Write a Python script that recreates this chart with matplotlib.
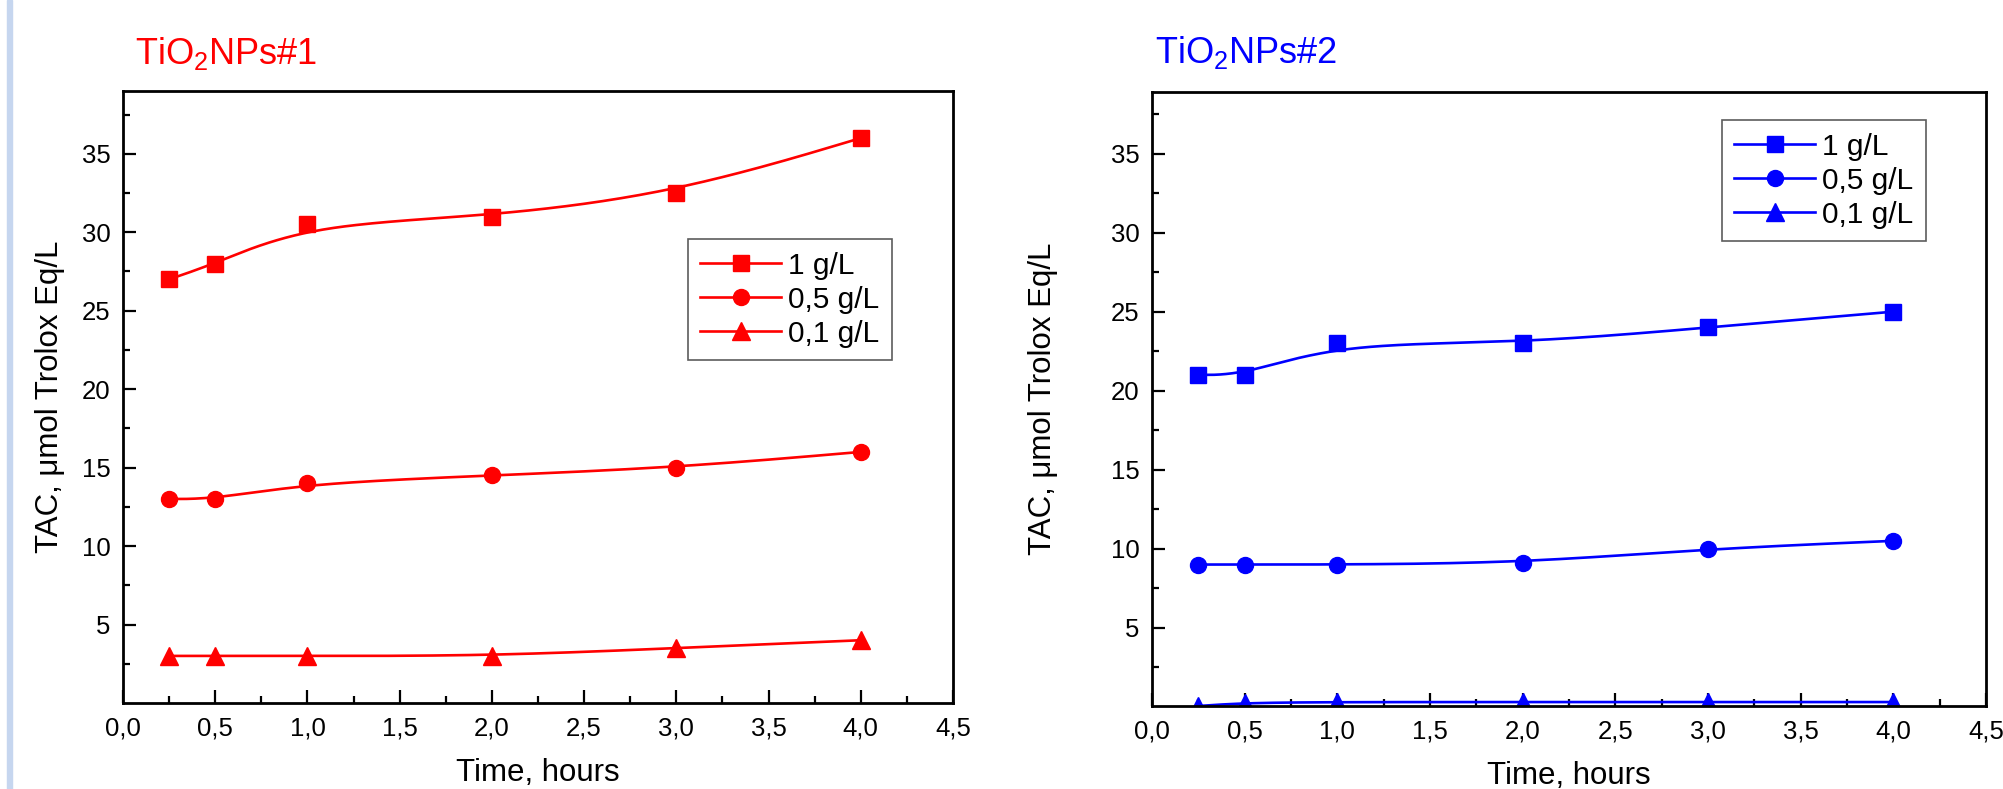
import numpy as np
import matplotlib
matplotlib.use("Agg")
import matplotlib.pyplot as plt
from matplotlib.patches import Rectangle

plt.rcParams['font.family'] = ['Liberation Sans', 'DejaVu Sans']
plt.rcParams['mathtext.fontset'] = 'custom'
plt.rcParams['mathtext.rm'] = 'Liberation Sans'

# sampling times, hours
hours = [0.25, 0.5, 1.0, 2.0, 3.0, 4.0]

# TAC, umol Trolox Eq/L
np1_1g = [27, 28, 30.5, 31, 32.5, 36]
np1_05g = [13, 13, 14, 14.5, 15, 16]
np1_01g = [3, 3, 3, 3, 3.5, 4]

np2_1g = [21, 21, 23, 23, 24, 25]
np2_05g = [9, 9, 9, 9.1, 10, 10.5]
np2_01g = [0.05, 0.25, 0.3, 0.3, 0.3, 0.3]

series_labels = ['1 g/L', '0,5 g/L', '0,1 g/L']
series_markers = ['s', 'o', '^']

xticks = [0, 0.5, 1.0, 1.5, 2.0, 2.5, 3.0, 3.5, 4.0, 4.5]
xticklabels = ['0,0', '0,5', '1,0', '1,5', '2,0', '2,5', '3,0', '3,5', '4,0', '4,5']
yticks = [5, 10, 15, 20, 25, 30, 35]
yticklabels = ['5', '10', '15', '20', '25', '30', '35']


def bspline(x, y, n=40):
    # cubic B-spline with the data as control points, clamped at both ends
    px = np.r_[[x[0]] * 2, x, [x[-1]] * 2]
    py = np.r_[[y[0]] * 2, y, [y[-1]] * 2]
    t = np.linspace(0, 1, n, endpoint=False)
    b0 = (1 - t) ** 3 / 6
    b1 = (3 * t ** 3 - 6 * t ** 2 + 4) / 6
    b2 = (-3 * t ** 3 + 3 * t ** 2 + 3 * t + 1) / 6
    b3 = t ** 3 / 6
    xs, ys = [], []
    for i in range(len(px) - 3):
        xs.append(b0 * px[i] + b1 * px[i + 1] + b2 * px[i + 2] + b3 * px[i + 3])
        ys.append(b0 * py[i] + b1 * py[i + 1] + b2 * py[i + 2] + b3 * py[i + 3])
    xs.append([x[-1]])
    ys.append([y[-1]])
    return np.concatenate(xs), np.concatenate(ys)


marker_size = {'s': 11, 'o': 11.5, '^': 13}


def panel(ax, data, color, ylim, legend_anchor, ylabelpad):
    for vals, lab, mk in zip(data, series_labels, series_markers):
        sx, sy = bspline(np.array(hours, float), np.array(vals, float))
        ax.plot(sx, sy, color=color, lw=1.9)
        ms = marker_size[mk]
        ax.plot(hours, vals, linestyle='none', marker=mk, ms=ms, color=color)
        # legend proxy: line with marker
        ax.plot([], [], color=color, lw=1.9, marker=mk, ms=ms, label=lab)
    ax.set_xlim(0, 4.5)
    ax.set_ylim(*ylim)
    ax.set_xticks(xticks)
    ax.set_xticklabels(xticklabels)
    ax.set_xticks(np.arange(0.25, 4.5, 0.5), minor=True)
    ax.set_yticks(yticks)
    ax.set_yticklabels(yticklabels)
    ax.set_yticks(np.arange(2.5, 39, 5), minor=True)
    ax.tick_params(which='both', direction='in', top=False, right=False,
                   width=1.6, labelsize=18.5)
    ax.tick_params(which='major', length=9.5)
    ax.tick_params(which='minor', length=5)
    ax.tick_params(axis='x', pad=10)
    ax.tick_params(axis='y', pad=9)
    for s in ax.spines.values():
        s.set_linewidth(2)
    ax.set_xlabel('Time, hours', fontsize=22.5, labelpad=12)
    ax.set_ylabel('TAC, μmol Trolox Eq/L', fontsize=22.5, labelpad=ylabelpad)
    leg = ax.legend(loc='upper right', bbox_to_anchor=legend_anchor, fontsize=21.5,
                    frameon=True, fancybox=False, handlelength=2.7,
                    handletextpad=0.25, labelspacing=0.2, borderpad=0.42,
                    borderaxespad=0)
    leg.get_frame().set_edgecolor('#333333')
    leg.get_frame().set_linewidth(1.2)


fig = plt.figure(figsize=(20.03, 7.89), dpi=100)
fig.patches.append(Rectangle((7 / 2003, 0), 5 / 2003, 1, transform=fig.transFigure,
                             color='#c6d6ef', zorder=0))

ax1 = fig.add_axes([123 / 2003, 1 - 703 / 789, 830 / 2003, 612 / 789])
panel(ax1, [np1_1g, np1_05g, np1_01g], '#ff0000', (0, 39), (0.9265, 0.758), 12)

ax2 = fig.add_axes([1152 / 2003, 1 - 706 / 789, 834 / 2003, 614 / 789])
panel(ax2, [np2_1g, np2_05g, np2_01g], '#0000ff', (0.05, 38.9), (0.928, 0.954), 38)

fig.text(135 / 2003, 1 - 64 / 789, r'$\mathregular{TiO_2NPs\#1}$', color='#ff0000',
         fontsize=26, va='baseline', ha='left')
fig.text(1155 / 2003, 1 - 63 / 789, r'$\mathregular{TiO_2NPs\#2}$', color='#0000ff',
         fontsize=26, va='baseline', ha='left')

fig.savefig('out.png', dpi=100)
